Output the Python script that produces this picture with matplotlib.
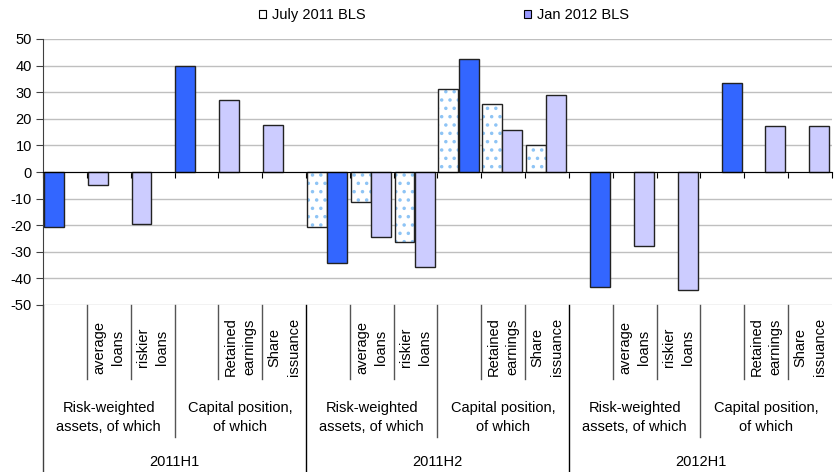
import numpy as np
import matplotlib
matplotlib.use("Agg")
import matplotlib.pyplot as plt
import matplotlib.transforms as mtransforms
from matplotlib.patches import Patch

plt.rcParams["font.family"] = ["Liberation Sans", "DejaVu Sans"]
plt.rcParams["hatch.linewidth"] = 1.3
plt.rcParams["axes.unicode_minus"] = False

# ---- data -------------------------------------------------------------
periods = ["2011H1", "2011H2", "2012H1"]
groups = ["Risk-weighted\nassets, of which", "Capital position,\nof which"]
items = ["", "average\nloans", "riskier\nloans", "", "Retained\nearnings", "Share\nissuance"]
is_total = [True, False, False, True, False, False]

nan = np.nan
july_2011 = [-20.5, -5.0, -19.5, 40.0, 27.0, 17.6,
             -20.5, -11.3, -26.3, 31.3, 25.6, 10.3,
             nan, nan, nan, nan, nan, nan]
jan_2012 = [nan, nan, nan, nan, nan, nan,
            -34.2, -24.4, -35.7, 42.6, 15.8, 28.9,
            -43.1, -27.9, -44.4, 33.3, 17.2, 17.2]
# July survey figures for the following half-year are expectations (patterned)
july_expected = [False] * 6 + [True] * 6 + [False] * 6

# ---- styles -----------------------------------------------------------
C_TOTAL = "#3366FF"
C_PART = "#CCCCFF"
C_EDGE = "#222222"
C_HATCH = "#8EC4F5"
FS = 10.5

fig = plt.figure(figsize=(8.34, 4.72), dpi=100)
ax = fig.add_axes([43 / 834, 1 - 305 / 472, (832 - 43) / 834, 266 / 472])

n = len(july_2011)
x = np.arange(n)
tot = np.array(is_total * len(periods))
w = 0.455
off_july = 0.2475
off_jan = 0.71

jv = np.array(july_2011, dtype=float)
nv = np.array(jan_2012, dtype=float)
jexp = np.array(july_expected)

# solid July bars
m = np.isfinite(jv) & ~jexp
ax.bar(x[m] + off_july, jv[m], width=w,
       color=[C_TOTAL if t else C_PART for t in tot[m]],
       edgecolor=C_EDGE, linewidth=1, zorder=3)
# patterned July bars (expectations)
m = np.isfinite(jv) & jexp
ax.bar(x[m] + off_july, jv[m], width=w, color="white",
       edgecolor=C_HATCH, hatch="..", linewidth=0, zorder=3)
ax.bar(x[m] + off_july, jv[m], width=w, fill=False,
       edgecolor=C_EDGE, linewidth=1, zorder=3)
# January bars
m = np.isfinite(nv)
ax.bar(x[m] + off_jan, nv[m], width=w,
       color=[C_TOTAL if t else C_PART for t in tot[m]],
       edgecolor=C_EDGE, linewidth=1, zorder=3)

# ---- axes -------------------------------------------------------------
ax.set_xlim(0, n)
ax.set_ylim(-50, 50)
ax.set_yticks(np.arange(-50, 51, 10))
ax.yaxis.grid(True, color="#BFBFBF", linewidth=1)
ax.set_axisbelow(True)
for s in ("top", "right"):
    ax.spines[s].set_visible(False)
ax.spines["bottom"].set_position(("data", 0))
ax.spines["bottom"].set_color("black")
ax.spines["bottom"].set_zorder(4)
ax.spines["left"].set_color("#404040")
ax.set_xticks(np.arange(0, n + 1))
ax.set_xticklabels([])
ax.tick_params(axis="x", direction="out", length=4, color="black")
ax.tick_params(axis="y", direction="out", length=5, color="#404040",
               labelsize=FS, pad=3)

# ---- multi-level category axis ---------------------------------------
trans = mtransforms.blended_transform_factory(ax.transData, ax.transAxes)
y_item, y_group, y_bottom = -0.278, -0.495, -0.64
ax.plot([0, 0], [0, y_bottom], transform=trans, clip_on=False,
        color="#404040", lw=1)
for b in range(1, n):
    if b % 6 == 0:
        yb, col = y_bottom, "black"
    elif b % 3 == 0:
        yb, col = y_group, "#555555"
    else:
        yb, col = y_item, "#555555"
    ax.plot([b, b], [0, yb], transform=trans, clip_on=False, color=col, lw=1)

for p, per in enumerate(periods):
    for k, lab in enumerate(items):
        if lab:
            ax.text(p * 6 + k + 0.5, -0.158, lab, transform=trans,
                    rotation=90, ha="center", va="center",
                    multialignment="center", fontsize=FS, linespacing=1.45)
    for g, glab in enumerate(groups):
        ax.text(p * 6 + g * 3 + 1.5, -0.423, glab, transform=trans,
                ha="center", va="center", multialignment="center",
                fontsize=FS, linespacing=1.4)
    ax.text(p * 6 + 3, -0.592, per, transform=trans,
            ha="center", va="center", fontsize=FS)

# ---- legend -----------------------------------------------------------
handles = [Patch(facecolor="white", edgecolor="black", linewidth=0.8),
           Patch(facecolor="#9999FF", edgecolor="black", linewidth=0.8)]
fig.legend(handles, ["July 2011 BLS", "Jan 2012 BLS"], loc="center",
           bbox_to_anchor=(444 / 834, 1 - 15 / 472), ncol=2, frameon=False,
           fontsize=FS, handlelength=0.5, handleheight=0.5,
           handletextpad=0.45, columnspacing=10.8, borderpad=0)

fig.savefig("out.png", dpi=100)
